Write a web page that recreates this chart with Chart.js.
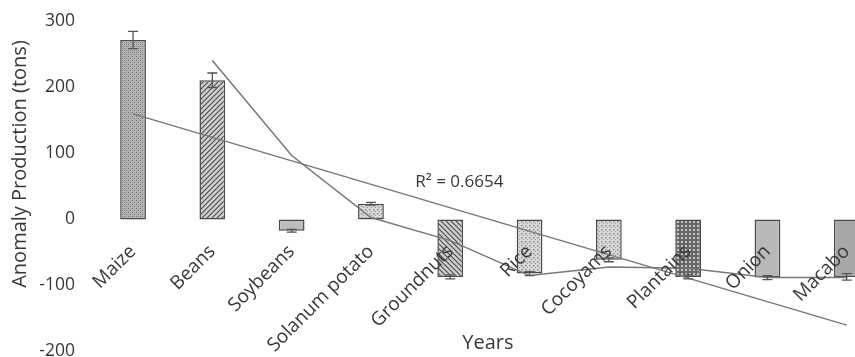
<!DOCTYPE html>
<html>
<head>
<meta charset="utf-8">
<script src="https://cdn.jsdelivr.net/npm/chart.js@4.4.1/dist/chart.umd.min.js"></script>
<style>
  html, body { margin: 0; padding: 0; background: #ffffff; overflow: hidden; }
  #wrap { position: absolute; left: 0; top: 0; width: 890px; height: 365px; }
</style>
</head>
<body>
<div id="wrap"><canvas id="chart" width="890" height="365"></canvas></div>
<script>
// Crop production anomalies (tons), with error margins and two trend lines
const crops = ['Maize', 'Beans', 'Soybeans', 'Solanum potato', 'Groundnuts', 'Rice', 'Cocoyams', 'Plantains', 'Onion', 'Macabo'];
const anomaly = [272, 211, -17, 24, -87, -82, -61, -87, -88, -87];
const anomalyError = [13, 11, 2, 2, 3, 3, 3, 3, 3, 5];
// two-period moving average trend
const movingAverage = [null, 241, 97, 3, -32, -85, -72, -74, -88, -88];
// linear trend, first and last category
const linearTrend = [160, null, null, null, null, null, null, null, null, -160];
const yTicks = [-200, -100, 0, 100, 200, 300];
const rSquaredLabel = 'R² = 0.6654';
const yTitle = 'Anomaly Production (tons)';
const xTitle = 'Years';

const TEXT = '#383838';
const FONT = 'Open Sans';

const canvas = document.getElementById('chart');
const ctx = canvas.getContext('2d');

function tile(w, h, paint) {
  const c = document.createElement('canvas');
  c.width = w; c.height = h;
  paint(c.getContext('2d'), w, h);
  return ctx.createPattern(c, 'repeat');
}

const fineDots = tile(4, 4, (g) => {
  g.fillStyle = '#b6b6b6'; g.fillRect(0, 0, 4, 4);
  g.fillStyle = '#6e6e6e'; g.fillRect(0, 0, 1, 1); g.fillRect(2, 2, 1, 1);
  g.fillStyle = '#949494'; g.fillRect(2, 0, 1, 1); g.fillRect(0, 2, 1, 1);
});
const lightDots = tile(4, 4, (g) => {
  g.fillStyle = '#d8d8d8'; g.fillRect(0, 0, 4, 4);
  g.fillStyle = '#8f8f8f'; g.fillRect(1, 1, 1.5, 1.5); g.fillRect(3, 3, 1, 1);
});
const hatch = (forward) => tile(5, 5, (g) => {
  g.fillStyle = '#d0d0d0'; g.fillRect(0, 0, 5, 5);
  g.strokeStyle = '#4e4e4e'; g.lineWidth = 1.2;
  g.beginPath();
  if (forward) {
    g.moveTo(-1, 6); g.lineTo(6, -1);
    g.moveTo(-1, 1); g.lineTo(1, -1);
    g.moveTo(4, 6); g.lineTo(6, 4);
  } else {
    g.moveTo(-1, -1); g.lineTo(6, 6);
    g.moveTo(4, -1); g.lineTo(6, 1);
    g.moveTo(-1, 4); g.lineTo(1, 6);
  }
  g.stroke();
});
const darkGrid = tile(4, 4, (g) => {
  g.fillStyle = '#666666'; g.fillRect(0, 0, 4, 4);
  g.fillStyle = '#c4c4c4'; g.fillRect(1, 1, 2, 2);
});

const barFills = [fineDots, hatch(true), '#bdbdbd', lightDots, hatch(false), lightDots, lightDots, darkGrid, '#b9b9b9', '#a8a8a8'];

const errorBars = {
  id: 'errorBars',
  afterDatasetsDraw(chart) {
    const meta = chart.getDatasetMeta(0);
    const y = chart.scales.y;
    const c = chart.ctx;
    c.save();
    c.strokeStyle = '#555555';
    c.lineWidth = 1.3;
    meta.data.forEach((bar, i) => {
      const v = anomaly[i], e = anomalyError[i];
      const top = y.getPixelForValue(v + e);
      const bot = y.getPixelForValue(v - e);
      const half = 5;
      c.beginPath();
      c.moveTo(bar.x, top); c.lineTo(bar.x, bot);
      c.moveTo(bar.x - half, top); c.lineTo(bar.x + half, top);
      c.moveTo(bar.x - half, bot); c.lineTo(bar.x + half, bot);
      c.stroke();
    });
    c.restore();
  }
};

const labels = {
  id: 'labels',
  afterDraw(chart) {
    const c = chart.ctx;
    const { x, y } = chart.scales;
    const area = chart.chartArea;
    c.save();
    c.fillStyle = TEXT;
    c.textBaseline = 'middle';
    // R² of the linear trend
    c.font = `17px "${FONT}"`;
    c.textAlign = 'left';
    c.fillText(rSquaredLabel, x.getPixelForValue(3.56), y.getPixelForValue(57));
    // horizontal axis title
    c.font = `20px "${FONT}"`;
    c.textAlign = 'center';
    c.fillText(xTitle, (area.left + area.right) / 2 - 2, area.bottom - 8);
    // vertical axis title
    c.translate(20, 164);
    c.rotate(-Math.PI / 2);
    c.fillText(yTitle, 0, 0);
    c.restore();
  }
};

new Chart(ctx, {
  data: {
    labels: crops,
    datasets: [
      {
        type: 'bar',
        data: anomaly,
        backgroundColor: barFills,
        borderColor: '#4a4a4a',
        borderWidth: 1.5,
        borderSkipped: false,
        barPercentage: 0.325,
        categoryPercentage: 1,
        order: 2
      },
      {
        type: 'line',
        data: movingAverage,
        borderColor: '#777777',
        borderWidth: 1.5,
        pointRadius: 0,
        tension: 0,
        fill: false,
        order: 1
      },
      {
        type: 'line',
        data: linearTrend,
        borderColor: '#777777',
        borderWidth: 1.5,
        pointRadius: 0,
        tension: 0,
        spanGaps: true,
        fill: false,
        order: 0
      }
    ]
  },
  options: {
    responsive: false,
    animation: false,
    devicePixelRatio: 1,
    layout: { autoPadding: false, padding: { left: 0, right: 3.6, top: 21.5, bottom: 13.5 } },
    plugins: { legend: { display: false }, tooltip: { enabled: false } },
    scales: {
      x: {
        type: 'category',
        position: { y: 0 },
        offset: true,
        grid: { display: false, drawTicks: false },
        border: { display: false },
        afterFit: (s) => { s.paddingLeft = 0; s.paddingRight = 0; s.paddingTop = 0; s.paddingBottom = 0; },
        ticks: {
          z: 1,
          autoSkip: false, maxRotation: 45, minRotation: 45, padding: 21,
          color: TEXT, font: { family: FONT, size: 19 }
        }
      },
      y: {
        min: -200, max: 300,
        grid: { display: false, drawTicks: false },
        border: { display: false },
        afterBuildTicks: (s) => { s.ticks = yTicks.map((v) => ({ value: v })); },
        afterFit: (s) => { s.width = 93.4; s.paddingTop = 0; s.paddingBottom = 0; },
        ticks: { padding: 18.5, color: TEXT, font: { family: FONT, size: 17.5 } }
      }
    }
  },
  plugins: [errorBars, labels]
});
</script>
</body>
</html>
